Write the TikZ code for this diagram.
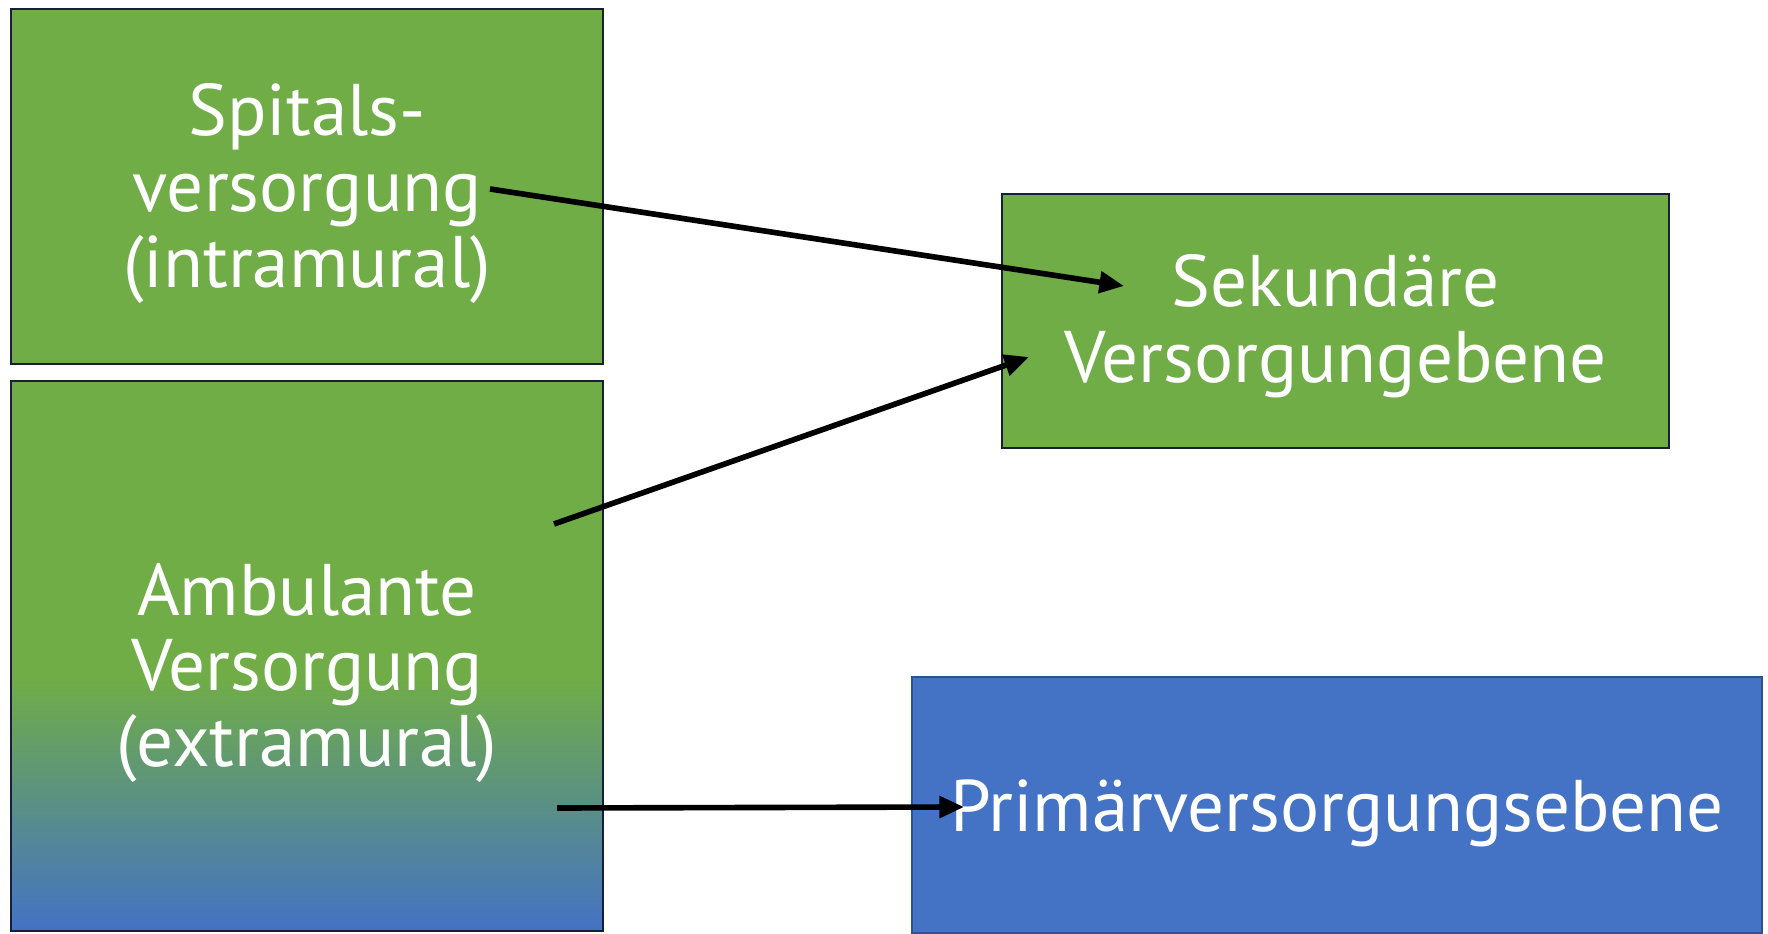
\documentclass[tikz,border=0pt]{standalone}
\usepackage{fontspec}
\setmainfont{PT Sans}
\usetikzlibrary{positioning, arrows.meta, calc}
\definecolor{caregreen}{RGB}{112,173,71}
\definecolor{careblue}{RGB}{68,114,196}
\definecolor{navyline}{RGB}{22,30,58}
\definecolor{blueline}{RGB}{47,82,143}
\pgfdeclareverticalshading{ambgrad}{100bp}{color(0bp)=(careblue); color(25bp)=(careblue); color(48bp)=(caregreen); color(100bp)=(caregreen)}
\tikzset{
    greenbox/.style={rectangle, draw=navyline, fill=caregreen, line width=0.8pt, inner sep=0pt},
    bluebox/.style={rectangle, draw=blueline, fill=careblue, line width=0.8pt, inner sep=0pt},
    gradbox/.style={greenbox, shade, shading=ambgrad},
    boxtext/.style={align=center, text=white, inner sep=0pt, font=\fontsize{20.8}{21.6}\selectfont},
    flowarr/.style={-{Triangle[length=7pt, width=6pt]}, line width=1.6pt, color=black}
}

\begin{document}
\begin{tikzpicture}
        \useasboundingbox (0,0) rectangle (17.68,9.33);

        % Sectors (left column)
        \node[greenbox, minimum width=5.92cm, minimum height=3.55cm] (spital) at (3.07, 7.465) {};
        \node[boxtext] (spitaltxt) at ([yshift=-0.07cm]spital.center) {Spitals-\\versorgung\\(intramural)};
        \node[gradbox, minimum width=5.92cm, minimum height=5.50cm] (ambulant) at (3.07, 2.77) {};
        \node[boxtext] (ambulanttxt) at ([yshift=-0.17cm]ambulant.center) {Ambulante\\Versorgung\\(extramural)};

        % Care levels (right column)
        \node[greenbox, minimum width=6.67cm, minimum height=2.54cm] (sekundaer) at (13.355, 6.12) {};
        \node[boxtext] (sekundaertxt) at ([yshift=-0.05cm]sekundaer.center) {Sekundäre\\Versorgungebene};
        \node[bluebox, minimum width=8.50cm, minimum height=2.56cm] (primaer) at (13.37, 1.28) {};
        \node[boxtext] (primaertxt) at ([yshift=-0.08cm]primaer.center) {Primärversorgungsebene};

        % Arrow ends
        \coordinate (spitalout) at (4.90, 7.44);
        \coordinate (sekin1) at (11.24, 6.47);
        \coordinate (ambout1) at (5.54, 4.09);
        \coordinate (sekin2) at (10.29, 5.76);
        \coordinate (ambout2) at (5.57, 1.25);
        \coordinate (primin) at (9.64, 1.26);

        \draw[flowarr] (spitalout) -- (sekin1);
        \draw[flowarr] (ambout1) -- (sekin2);
        \draw[flowarr] (ambout2) -- (primin);

    \end{tikzpicture}
\end{document}
